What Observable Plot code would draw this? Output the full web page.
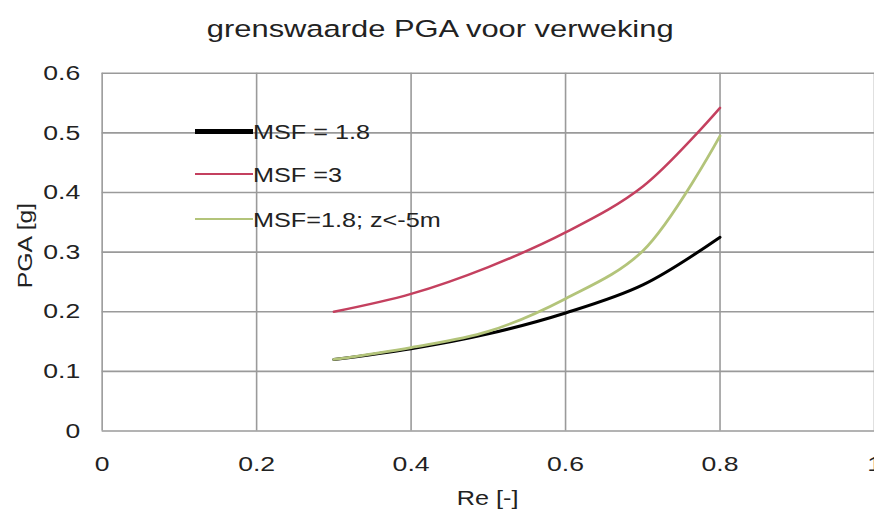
<!DOCTYPE html>
<html>
<head>
<meta charset="utf-8">
<script src="https://cdn.jsdelivr.net/npm/d3@7"></script>
<script src="https://cdn.jsdelivr.net/npm/@observablehq/plot@0.6"></script>
<style>
  html, body { margin: 0; padding: 0; background: #fff; }
  #wrap { position: relative; width: 874px; height: 515px; overflow: hidden; font-family: "Liberation Sans", Arial, sans-serif; color: #222; }
  .abs { position: absolute; white-space: nowrap; line-height: 1; }
  .sw { position: absolute; }
</style>
</head>
<body>
<div id="wrap"></div>
<script>
const title = "grenswaarde PGA voor verweking";
const xLabel = "Re [-]";
const yLabel = "PGA [g]";
const re = [0.3, 0.4, 0.5, 0.6, 0.7, 0.8];
const msf18 = [0.12, 0.138, 0.163, 0.198, 0.245, 0.325];
const msf3 = [0.2, 0.23, 0.275, 0.333, 0.41, 0.542];
const msf18z = [0.12, 0.14, 0.167, 0.222, 0.302, 0.495];
const seriesNames = ["MSF = 1.8", "MSF =3", "MSF=1.8; z<-5m"];
const seriesColors = ["#000000", "#c4405f", "#b3c47a"];
const seriesWidths = [3, 2.5, 2.8];
const xTicks = [0, 0.2, 0.4, 0.6, 0.8, 1];
const yTicks = [0, 0.1, 0.2, 0.3, 0.4, 0.5, 0.6];

const allSeries = [msf18, msf3, msf18z];
const rows = [];
allSeries.forEach((vals, si) => re.forEach((r, i) => rows.push({series: seriesNames[si], x: r, y: vals[i]})));

const chart = Plot.plot({
  width: 877,
  height: 515,
  marginLeft: 102,
  marginRight: 0,
  marginTop: 73,
  marginBottom: 83,
  x: {domain: [0, 1], ticks: xTicks, label: null},
  y: {domain: [0, 0.6], ticks: yTicks, label: null},
  style: {fontFamily: "Liberation Sans, Arial, sans-serif", color: "#222", background: "#fff", overflow: "visible"},
  marks: [
    Plot.gridY(yTicks, {stroke: "#9a9a9a", strokeOpacity: 1, strokeWidth: 1.6}),
    Plot.gridX(xTicks, {stroke: "#9a9a9a", strokeOpacity: 1, strokeWidth: 1.6}),
    Plot.axisY(yTicks, {tickSize: 0, tickPadding: 22, fontSize: 21, tickFormat: d3.format("")}),
    Plot.axisX(xTicks, {tickSize: 0, tickPadding: 25, fontSize: 21, tickFormat: d3.format("")}),
    ...seriesNames.map((name, si) =>
      Plot.line(rows.filter(d => d.series === name), {
        x: "x", y: "y", stroke: seriesColors[si], strokeWidth: seriesWidths[si], curve: "catmull-rom"
      })
    )
  ]
});

const wrap = document.getElementById("wrap");
wrap.appendChild(chart);

// widen tick label glyphs to match the reference's wide lettering
chart.querySelectorAll("text").forEach(t => {
  const len = t.getComputedTextLength();
  if (len > 0) {
    t.setAttribute("textLength", (len * 1.27).toFixed(1));
    t.setAttribute("lengthAdjust", "spacingAndGlyphs");
  }
});

function addText(text, size, sx, cx, cy, opts = {}) {
  const d = document.createElement("div");
  d.className = "abs";
  d.textContent = text;
  d.style.fontSize = size + "px";
  wrap.appendChild(d);
  const w = d.offsetWidth, h = d.offsetHeight;
  const rot = opts.rotate ? "rotate(-90deg) " : "";
  d.style.transformOrigin = opts.anchorLeft ? "left center" : "center center";
  d.style.transform = rot + "scaleX(" + sx + ")";
  d.style.left = (opts.anchorLeft ? cx : cx - w / 2) + "px";
  d.style.top = (cy - h / 2) + "px";
  return d;
}
addText(title, 24.5, 1.26, 440, 29);
addText(yLabel, 21, 1.18, 24, 245, {rotate: true});
addText(xLabel, 21, 1.2, 487, 497);

const legY = [131, 174, 219];
const legH = [5, 2.5, 2.5];
seriesNames.forEach((name, i) => {
  const sw = document.createElement("div");
  sw.className = "sw";
  Object.assign(sw.style, {left: "195px", width: "58px", top: (legY[i] - legH[i] / 2) + "px", height: legH[i] + "px", background: seriesColors[i]});
  wrap.appendChild(sw);
  addText(name, 21, 1.2, 253, legY[i], {anchorLeft: true});
});
</script>
</body>
</html>
